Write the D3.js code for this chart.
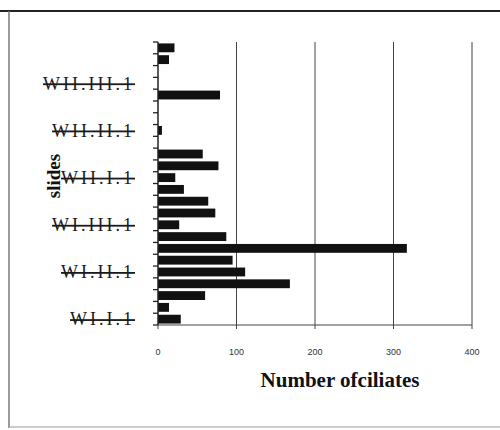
<!DOCTYPE html>
<html lang="en">
  <head>
    <meta charset="UTF-8" />
    <title>Number of ciliates per slide</title>
    <style>
      body {
        margin: 0;
        background: #fff;
      }
      .cat text {
        font-family: "Liberation Serif", "DejaVu Serif", serif;
        font-size: 18px;
        letter-spacing: 3px;
        fill: #1a1a1a;
        text-decoration: line-through;
      }
      .num text {
        font-family: "Liberation Sans", Arial, sans-serif;
        font-size: 9px;
        fill: #333;
      }
      .title {
        font-family: "Liberation Serif", "DejaVu Serif", serif;
        font-weight: bold;
        fill: #111;
      }
    </style>
  </head>
  <body>
    <svg width="500" height="430"></svg>

    <script src="https://cdn.jsdelivr.net/npm/d3@7"></script>

    <script>
      // slides, bottom to top
      const slides = [
        "WI.I.1", "WI.I.2", "WI.I.3", "WI.I.4",
        "WI.II.1", "WI.II.2", "WI.II.3", "WI.II.4",
        "WI.III.1", "WI.III.2", "WI.III.3", "WI.III.4",
        "WII.I.1", "WII.I.2", "WII.I.3", "WII.I.4",
        "WII.II.1", "WII.II.2", "WII.II.3", "WII.II.4",
        "WII.III.1", "WII.III.2", "WII.III.3", "WII.III.4",
      ];
      const ciliates = [
        29, 14, 60, 168, 111, 95, 317, 87,
        27, 73, 64, 33, 22, 77, 57, 0,
        5, 0, 0, 79, 0, 0, 14, 21,
      ];
      const shownLabels = ["WI.I.1", "WI.II.1", "WI.III.1", "WII.I.1", "WII.II.1", "WII.III.1"];
      const xTicks = [0, 100, 200, 300, 400];

      const svg = d3.select("svg");

      // outer frame of the scanned figure
      svg.append("line").attr("x1", 0).attr("x2", 500).attr("y1", 11).attr("y2", 11)
        .attr("stroke", "#222").attr("stroke-width", 2);
      svg.append("line").attr("x1", 9).attr("x2", 9).attr("y1", 11).attr("y2", 428)
        .attr("stroke", "#777").attr("stroke-width", 1.5);
      svg.append("line").attr("x1", 9).attr("x2", 500).attr("y1", 427).attr("y2", 427)
        .attr("stroke", "#bbb").attr("stroke-width", 1.5);

      const x = d3.scaleLinear().domain([0, 400]).range([158, 472]);
      const y = d3.scaleBand().domain(slides).range([325, 42]).paddingInner(0.25).paddingOuter(0.12);
      const yBand = d3.scaleBand().domain(slides).range([325, 42]);

      // vertical gridlines
      svg.append("g")
        .selectAll("line")
        .data(xTicks.slice(1))
        .join("line")
        .attr("x1", (d) => x(d)).attr("x2", (d) => x(d))
        .attr("y1", 42).attr("y2", 325)
        .attr("stroke", "#444").attr("stroke-width", 1);

      // bars
      svg.append("g")
        .selectAll("rect")
        .data(slides)
        .join("rect")
        .attr("x", x(0))
        .attr("y", (d) => y(d))
        .attr("width", (d, i) => x(ciliates[i]) - x(0))
        .attr("height", y.bandwidth())
        .attr("fill", "#111");

      // y axis: ticks between categories, labels every 4th slide
      const yAxis = svg.append("g").attr("transform", "translate(" + x(0) + ",0)");
      yAxis.append("line").attr("y1", 42).attr("y2", 325).attr("stroke", "#222").attr("stroke-width", 1.5);
      yAxis.selectAll(".tk")
        .data(slides.concat(["top"]))
        .join("line")
        .attr("class", "tk")
        .attr("x1", -5).attr("x2", 0)
        .attr("y1", (d, i) => (i < slides.length ? yBand(d) + yBand.bandwidth() : 42))
        .attr("y2", (d, i) => (i < slides.length ? yBand(d) + yBand.bandwidth() : 42))
        .attr("stroke", "#222").attr("stroke-width", 1.3);
      yAxis.append("g").attr("class", "cat")
        .selectAll("text")
        .data(shownLabels)
        .join("text")
        .attr("x", -23)
        .attr("y", (d) => yBand(d) + yBand.bandwidth() / 2)
        .attr("dy", "0.35em")
        .attr("text-anchor", "end")
        .text((d) => d);

      // x axis
      const xAxis = svg.append("g");
      xAxis.append("line").attr("x1", x(0)).attr("x2", x(400)).attr("y1", 325).attr("y2", 325)
        .attr("stroke", "#444").attr("stroke-width", 1.2);
      xAxis.selectAll(".tk")
        .data(xTicks)
        .join("line")
        .attr("class", "tk")
        .attr("x1", (d) => x(d)).attr("x2", (d) => x(d))
        .attr("y1", 325).attr("y2", 329)
        .attr("stroke", "#444");
      xAxis.append("g").attr("class", "num")
        .selectAll("text")
        .data(xTicks)
        .join("text")
        .attr("x", (d) => x(d))
        .attr("y", 355)
        .attr("text-anchor", "middle")
        .text((d) => d);

      // axis titles
      svg.append("text").attr("class", "title")
        .attr("x", 340).attr("y", 387)
        .attr("text-anchor", "middle")
        .style("font-size", "21px")
        .text("Number ofciliates");
      svg.append("text").attr("class", "title")
        .attr("transform", "translate(60,176) rotate(-90)")
        .attr("text-anchor", "middle")
        .style("font-size", "19px")
        .text("slides");
    </script>
  </body>
</html>
